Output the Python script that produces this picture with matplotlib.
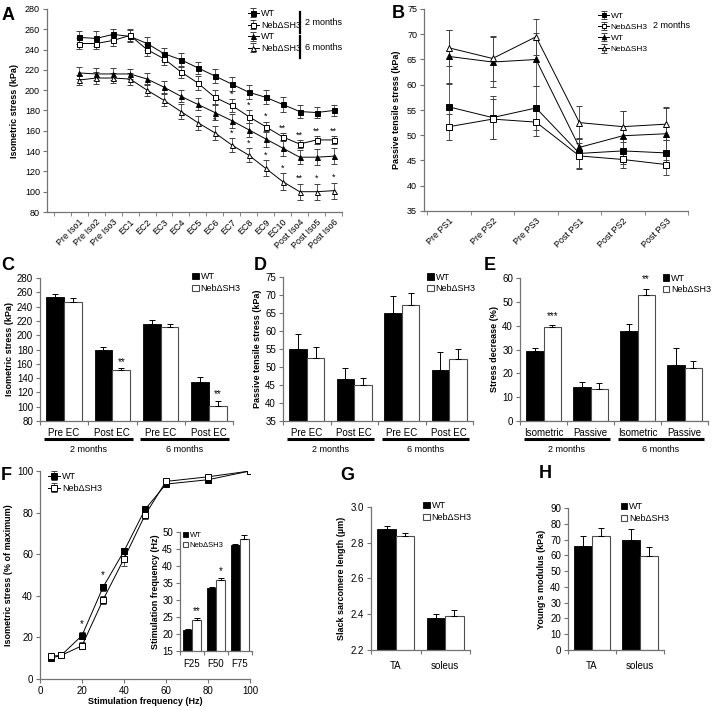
import matplotlib
matplotlib.use("Agg")
import matplotlib.pyplot as plt
import numpy as np
from matplotlib.transforms import blended_transform_factory

plt.rcParams["font.family"] = ["Liberation Sans", "DejaVu Sans"]

# ---- A: isometric stress over the eccentric protocol
A_LABELS = ["Pre Iso1", "Pre Iso2", "Pre Iso3", "EC1", "EC2", "EC3", "EC4", "EC5",
            "EC6", "EC7", "EC8", "EC9", "EC10", "Post Iso4", "Post Iso5", "Post Iso6"]
A_WT2 = [252, 251, 255, 253, 246, 236, 230, 222, 214, 206, 198, 193, 186, 179, 178, 180]
A_WT2_ERR = [6, 7, 5, 6, 6, 6, 7, 6, 7, 7, 7, 7, 7, 6, 5, 5]
A_NEB2 = [246, 246, 249, 254, 240, 231, 218, 207, 193, 185, 174, 164, 154, 147, 151, 151]
A_NEB2_ERR = [5, 5, 5, 6, 6, 6, 6, 7, 7, 6, 6, 5, 4, 4, 4, 4]
A_WT6 = [217, 216, 216, 216, 211, 203, 194, 186, 178, 170, 161, 152, 143, 134, 134, 135]
A_WT6_ERR = [6, 6, 6, 5, 6, 6, 6, 6, 7, 7, 7, 8, 8, 7, 8, 8]
A_NEB6 = [210, 212, 212, 211, 200, 190, 179, 168, 158, 146, 136, 123, 110, 100, 100, 101]
A_NEB6_ERR = [5, 6, 5, 6, 6, 6, 7, 7, 7, 7, 7, 8, 8, 8, 8, 8]
A_SIG2 = ["", "", "", "", "", "", "", "", "", "*", "*", "*", "**", "**", "**", "**"]
A_SIG6 = ["", "", "", "", "", "", "", "", "*", "*", "*", "*", "*", "**", "*", "*"]

# ---- B: passive tensile stress
B_LABELS = ["Pre PS1", "Pre PS2", "Pre PS3", "Post PS1", "Post PS2", "Post PS3"]
B_WT2 = [55.6, 53.5, 55.4, 46.4, 46.9, 46.5]
B_WT2_ERR = [4.5, 4.3, 4.3, 2.8, 2.5, 2.5]
B_NEB2 = [51.7, 53.2, 52.6, 45.9, 45.2, 44.2]
B_NEB2_ERR = [2.6, 4.0, 2.8, 2.5, 1.6, 2.1]
B_WT6 = [65.6, 64.5, 65.0, 47.6, 49.9, 50.3]
B_WT6_ERR = [5.2, 5.0, 5.2, 1.8, 5.0, 5.2]
B_NEB6 = [67.3, 65.2, 69.5, 52.5, 51.7, 52.2]
B_NEB6_ERR = [3.6, 4.5, 3.6, 3.2, 3.1, 3.2]

# ---- C, D, E: bar summaries
CD_CATS = ["Pre EC", "Post EC", "Pre EC", "Post EC"]
E_CATS = ["Isometric", "Passive", "Isometric", "Passive"]
AGE_GROUPS = ["2 months", "6 months"]

C_WT = [253, 179, 216, 135]
C_WT_ERR = [5, 5, 5, 7]
C_NEB = [247, 151, 211, 101]
C_NEB_ERR = [5, 3, 5, 7]
C_SIG = ["", "**", "", "**"]

D_WT = [54.9, 46.6, 65.0, 49.3]
D_WT_ERR = [4.3, 3.2, 4.8, 4.9]
D_NEB = [52.6, 45.0, 67.3, 52.2]
D_NEB_ERR = [2.9, 1.9, 3.3, 2.9]

E_WT = [29.2, 14.4, 37.9, 23.3]
E_WT_ERR = [1.6, 2.0, 2.8, 7.5]
E_NEB = [39.3, 13.5, 52.7, 22.4]
E_NEB_ERR = [0.8, 2.4, 2.6, 2.9]
E_SIG = ["***", "", "**", ""]

# ---- F: force-frequency
F_FREQ = [5, 10, 20, 30, 40, 50, 60, 80, 100]
F_WT = [10.0, 11.3, 20.9, 44.1, 61.5, 81.5, 93.7, 95.8, 100]
F_WT_ERR = [1.0, 0.8, 1.5, 1.8, 1.5, 1.2, 0.8, 0.6, 0]
F_NEB = [11.0, 11.3, 16.0, 38.0, 57.8, 78.8, 95.0, 97.2, 100]
F_NEB_ERR = [1.0, 0.8, 1.8, 2.0, 3.5, 2.0, 0.8, 0.6, 0]
F_SIG = ["", "", "*", "*", "", "", "", "", ""]

INSET_CATS = ["F25", "F50", "F75"]
INSET_WT = [21.2, 33.6, 46.3]
INSET_WT_ERR = [0.4, 0.3, 0.2]
INSET_NEB = [24.0, 36.0, 47.8]
INSET_NEB_ERR = [0.6, 0.5, 1.4]
INSET_SIG = ["**", "*", ""]

# ---- G, H: muscles
MUSCLES = ["TA", "soleus"]
G_WT = [2.878, 2.380]
G_WT_ERR = [0.013, 0.02]
G_NEB = [2.839, 2.392]
G_NEB_ERR = [0.015, 0.03]

H_WT = [66.0, 70.0]
H_WT_ERR = [6.5, 7.0]
H_NEB = [72.0, 59.5]
H_NEB_ERR = [5.5, 5.5]

AXIS_GRAY = "0.45"
W, H = 719, 709


def rect(x0, y0, x1, y1):
    return [x0 / W, 1 - y1 / H, (x1 - x0) / W, (y1 - y0) / H]


def style(ax, fs=7):
    for s in ("top", "right"):
        ax.spines[s].set_visible(False)
    for s in ("left", "bottom"):
        ax.spines[s].set_color(AXIS_GRAY)
        ax.spines[s].set_linewidth(0.9)
    ax.tick_params(colors=AXIS_GRAY, labelcolor="black", labelsize=fs,
                   direction="out", length=3, width=0.8, pad=2)


def line_series(ax, x, y, err, marker, face, label, ms=3.6):
    ax.errorbar(x, y, yerr=err, color="black", lw=0.7, marker=marker, ms=ms,
                mfc=face, mec="black", mew=0.7, ecolor="0.25", elinewidth=0.6,
                capsize=2, capthick=0.6, label=label)


def bar_pair(ax, wt, wt_err, neb, neb_err, width=0.37, sig=None, star_pad=0.0, star_fs=7):
    x = np.arange(len(wt))
    zeros = np.zeros(len(wt))
    ekw = dict(ecolor="black", lw=0.7, capsize=2, capthick=0.7)
    ax.bar(x - width / 2, wt, width, color="black", edgecolor="black", lw=0.6,
           yerr=[zeros, wt_err], error_kw=ekw, label="WT")
    ax.bar(x + width / 2, neb, width, color="white", edgecolor="0.3", lw=0.8,
           yerr=[zeros, neb_err], error_kw=ekw, label="Neb\u0394SH3")
    if sig:
        for i, s in enumerate(sig):
            if s:
                ax.text(i + width / 2, neb[i] + neb_err[i] + star_pad, s,
                        ha="center", va="bottom", fontsize=star_fs)
    ax.set_xlim(-0.5, len(wt) - 0.5)
    ax.set_xticks(np.arange(len(wt) + 1) - 0.5)
    ax.set_xticklabels([])


def bar_legend(ax, anchor, fs=6.5):
    ax.legend(loc="upper left", bbox_to_anchor=anchor, frameon=False, fontsize=fs,
              handlelength=0.7, handleheight=0.7, handletextpad=0.2,
              labelspacing=0.3, borderaxespad=0, borderpad=0)


def group_labels(ax, cats):
    tr = blended_transform_factory(ax.transData, ax.transAxes)
    for i, c in enumerate(cats):
        ax.text(i, -0.05, c, transform=tr, ha="center", va="top", fontsize=7)
    for (a, b), name in zip([(-0.42, 1.42), (1.58, 3.42)], AGE_GROUPS):
        ax.plot([a, b], [-0.128, -0.128], transform=tr, color="black", lw=2.2,
                clip_on=False, solid_capstyle="butt")
        ax.text((a + b) / 2, -0.165, name, transform=tr, ha="center", va="top",
                fontsize=6.5)


fig = plt.figure(figsize=(W / 100, H / 100), dpi=100)

# ================= A
ax = fig.add_axes(rect(47, 9, 342, 212))
xa = np.arange(len(A_LABELS))
line_series(ax, xa, A_WT2, A_WT2_ERR, "s", "black", "WT")
line_series(ax, xa, A_NEB2, A_NEB2_ERR, "s", "white", "Neb\u0394SH3")
line_series(ax, xa, A_WT6, A_WT6_ERR, "^", "black", "WT")
line_series(ax, xa, A_NEB6, A_NEB6_ERR, "^", "white", "Neb\u0394SH3")
for i in xa:
    if A_SIG2[i]:
        ax.text(i, A_NEB2[i] + A_NEB2_ERR[i] + 0.5, A_SIG2[i], ha="center",
                va="bottom", fontsize=6.5)
    if A_SIG6[i]:
        ax.text(i, A_NEB6[i] + A_NEB6_ERR[i] + 0.5, A_SIG6[i], ha="center",
                va="bottom", fontsize=6.5)
style(ax, 6.5)
ax.set_ylim(80, 280)
ax.set_yticks(np.arange(80, 281, 20))
ax.set_xlim(-1.9, 15.5)
ax.set_xticks(xa)
ax.set_xticklabels(A_LABELS, rotation=45, ha="right", rotation_mode="anchor",
                   fontsize=6.5)
ax.tick_params(axis="x", length=0, pad=4)
ax.set_xticks(np.arange(-1.5, 15.6, 1.0), minor=True)
ax.tick_params(axis="x", which="minor", length=3, color=AXIS_GRAY)
ax.set_ylabel("Isometric stress (kPa)", fontsize=6.5, fontweight="bold", labelpad=4)
ax.legend(loc="upper left", bbox_to_anchor=(0.68, 1.0), frameon=False, fontsize=6.5,
          handlelength=1.3, handletextpad=0.2, labelspacing=0.3, borderaxespad=0,
          borderpad=0)
for y0, y1, ym, txt in [(0.985, 0.88, 0.932, "2 months"), (0.865, 0.76, 0.812, "6 months")]:
    ax.plot([0.858, 0.858], [y0, y1], transform=ax.transAxes, color="black", lw=1.6,
            clip_on=False)
    ax.text(0.874, ym, txt, transform=ax.transAxes, ha="left", va="center", fontsize=6.5)

# ================= B
ax = fig.add_axes(rect(424, 9, 688, 211))
xb = np.arange(len(B_LABELS))
line_series(ax, xb, B_WT2, B_WT2_ERR, "s", "black", "WT", ms=4)
line_series(ax, xb, B_NEB2, B_NEB2_ERR, "s", "white", "Neb\u0394SH3", ms=4)
line_series(ax, xb, B_WT6, B_WT6_ERR, "^", "black", "WT", ms=4)
line_series(ax, xb, B_NEB6, B_NEB6_ERR, "^", "white", "Neb\u0394SH3", ms=4)
style(ax, 6.5)
ax.set_ylim(35, 75)
ax.set_yticks(np.arange(35, 76, 5))
ax.set_xlim(-0.58, 5.5)
ax.set_xticks(xb)
ax.set_xticklabels(B_LABELS, rotation=45, ha="right", rotation_mode="anchor",
                   fontsize=6.5)
ax.tick_params(axis="x", length=0, pad=4)
ax.set_xticks(np.arange(-0.5, 5.6, 1.0), minor=True)
ax.tick_params(axis="x", which="minor", length=3, color=AXIS_GRAY)
ax.set_ylabel("Passive tensile stress (kPa)", fontsize=6.5, fontweight="bold", labelpad=4)
ax.legend(loc="upper left", bbox_to_anchor=(0.66, 0.985), frameon=False, fontsize=6,
          handlelength=1.3, handletextpad=0.2, labelspacing=0.4, borderaxespad=0,
          borderpad=0, markerscale=0.8)
ax.text(0.868, 0.92, "2 months", transform=ax.transAxes, ha="left", va="center",
        fontsize=6.5)

# ================= C
ax = fig.add_axes(rect(40, 278, 233, 421))
bar_pair(ax, C_WT, C_WT_ERR, C_NEB, C_NEB_ERR, sig=C_SIG, star_pad=2)
style(ax, 7)
ax.set_ylim(80, 280)
ax.set_yticks(np.arange(80, 281, 20))
ax.set_ylabel("Isometric stress (kPa)", fontsize=6.5, fontweight="bold", labelpad=2)
group_labels(ax, CD_CATS)
bar_legend(ax, (0.79, 1.04))

# ================= D
ax = fig.add_axes(rect(283, 277, 473, 421))
bar_pair(ax, D_WT, D_WT_ERR, D_NEB, D_NEB_ERR)
style(ax, 7)
ax.set_ylim(35, 75)
ax.set_yticks(np.arange(35, 76, 5))
ax.set_ylabel("Passive tensile stress (kPa)", fontsize=6.5, fontweight="bold", labelpad=2)
group_labels(ax, CD_CATS)
bar_legend(ax, (0.76, 1.03))

# ================= E
ax = fig.add_axes(rect(520, 278, 708, 421))
bar_pair(ax, E_WT, E_WT_ERR, E_NEB, E_NEB_ERR, sig=E_SIG, star_pad=2)
style(ax, 7)
ax.set_ylim(0, 60)
ax.set_yticks(np.arange(0, 61, 10))
ax.set_ylabel("Stress decrease (%)", fontsize=6.5, fontweight="bold", labelpad=2)
group_labels(ax, E_CATS)
bar_legend(ax, (0.76, 1.03))

# ================= F
ax = fig.add_axes(rect(40, 471, 250, 679))
line_series(ax, F_FREQ, F_WT, F_WT_ERR, "s", "black", "WT", ms=4)
line_series(ax, F_FREQ, F_NEB, F_NEB_ERR, "s", "white", "Neb\u0394SH3", ms=4)
for f, s, y, e in zip(F_FREQ, F_SIG, F_WT, F_WT_ERR):
    if s:
        ax.text(f, y + e + 1.5, s, ha="center", va="bottom", fontsize=7)
style(ax, 7)
ax.set_xlim(0, 100)
ax.set_ylim(0, 100)
ax.set_xticks(np.arange(0, 101, 20))
ax.set_yticks(np.arange(0, 101, 20))
ax.set_xlabel("Stimulation frequency (Hz)", fontsize=6.5, fontweight="bold", labelpad=1)
ax.set_ylabel("Isometric stress (% of maximum)", fontsize=6.5, fontweight="bold",
              labelpad=3)
ax.legend(loc="upper left", bbox_to_anchor=(0.04, 0.995), frameon=False, fontsize=6.5,
          handlelength=1.3, handletextpad=0.2, labelspacing=0.3, borderaxespad=0,
          borderpad=0)

axi = fig.add_axes(rect(180, 532, 252, 651))
bar_pair(axi, INSET_WT, INSET_WT_ERR, INSET_NEB, INSET_NEB_ERR, width=0.375,
         sig=INSET_SIG, star_pad=0.6, star_fs=7)
style(axi, 7)
axi.set_ylim(15, 50)
axi.set_yticks(np.arange(15, 51, 5))
axi.set_ylabel("Stimulation frequency (Hz)", fontsize=6.5, fontweight="bold", labelpad=2)
tri = blended_transform_factory(axi.transData, axi.transAxes)
for i, c in enumerate(INSET_CATS):
    axi.text(i, -0.07, c, transform=tri, ha="center", va="top", fontsize=7)
bar_legend(axi, (0.04, 1.0), fs=5.5)

# ================= G
ax = fig.add_axes(rect(371, 507, 470, 650))
bar_pair(ax, G_WT, G_WT_ERR, G_NEB, G_NEB_ERR)
style(ax, 7)
ax.set_ylim(2.2, 3.0)
ax.set_yticks(np.arange(2.2, 3.01, 0.2))
ax.yaxis.set_major_formatter(matplotlib.ticker.FormatStrFormatter("%.1f"))
ax.set_ylabel("Slack sarcomere length (\u00b5m)", fontsize=6.5, fontweight="bold", labelpad=3)
trg = blended_transform_factory(ax.transData, ax.transAxes)
for i, c in enumerate(MUSCLES):
    ax.text(i, -0.08, c, transform=trg, ha="center", va="top", fontsize=7)
bar_legend(ax, (0.53, 1.04))

# ================= H
ax = fig.add_axes(rect(568, 508, 664, 650))
bar_pair(ax, H_WT, H_WT_ERR, H_NEB, H_NEB_ERR)
style(ax, 7)
ax.set_ylim(0, 90)
ax.set_yticks(np.arange(0, 91, 10))
ax.set_ylabel("Young's modulus (kPa)", fontsize=6.5, fontweight="bold", labelpad=3)
trh = blended_transform_factory(ax.transData, ax.transAxes)
for i, c in enumerate(MUSCLES):
    ax.text(i, -0.08, c, transform=trh, ha="center", va="top", fontsize=7)
bar_legend(ax, (0.55, 1.04))

# panel letters
for letter, px, py in [("A", 8, 15), ("B", 398, 14), ("C", 8, 265), ("D", 260, 265),
                       ("E", 490, 265), ("F", 6, 476), ("G", 347, 475), ("H", 545, 473)]:
    fig.text(px / W, 1 - py / H, letter, fontsize=13, fontweight="bold",
             ha="center", va="center")

fig.savefig("out.png", dpi=100)
